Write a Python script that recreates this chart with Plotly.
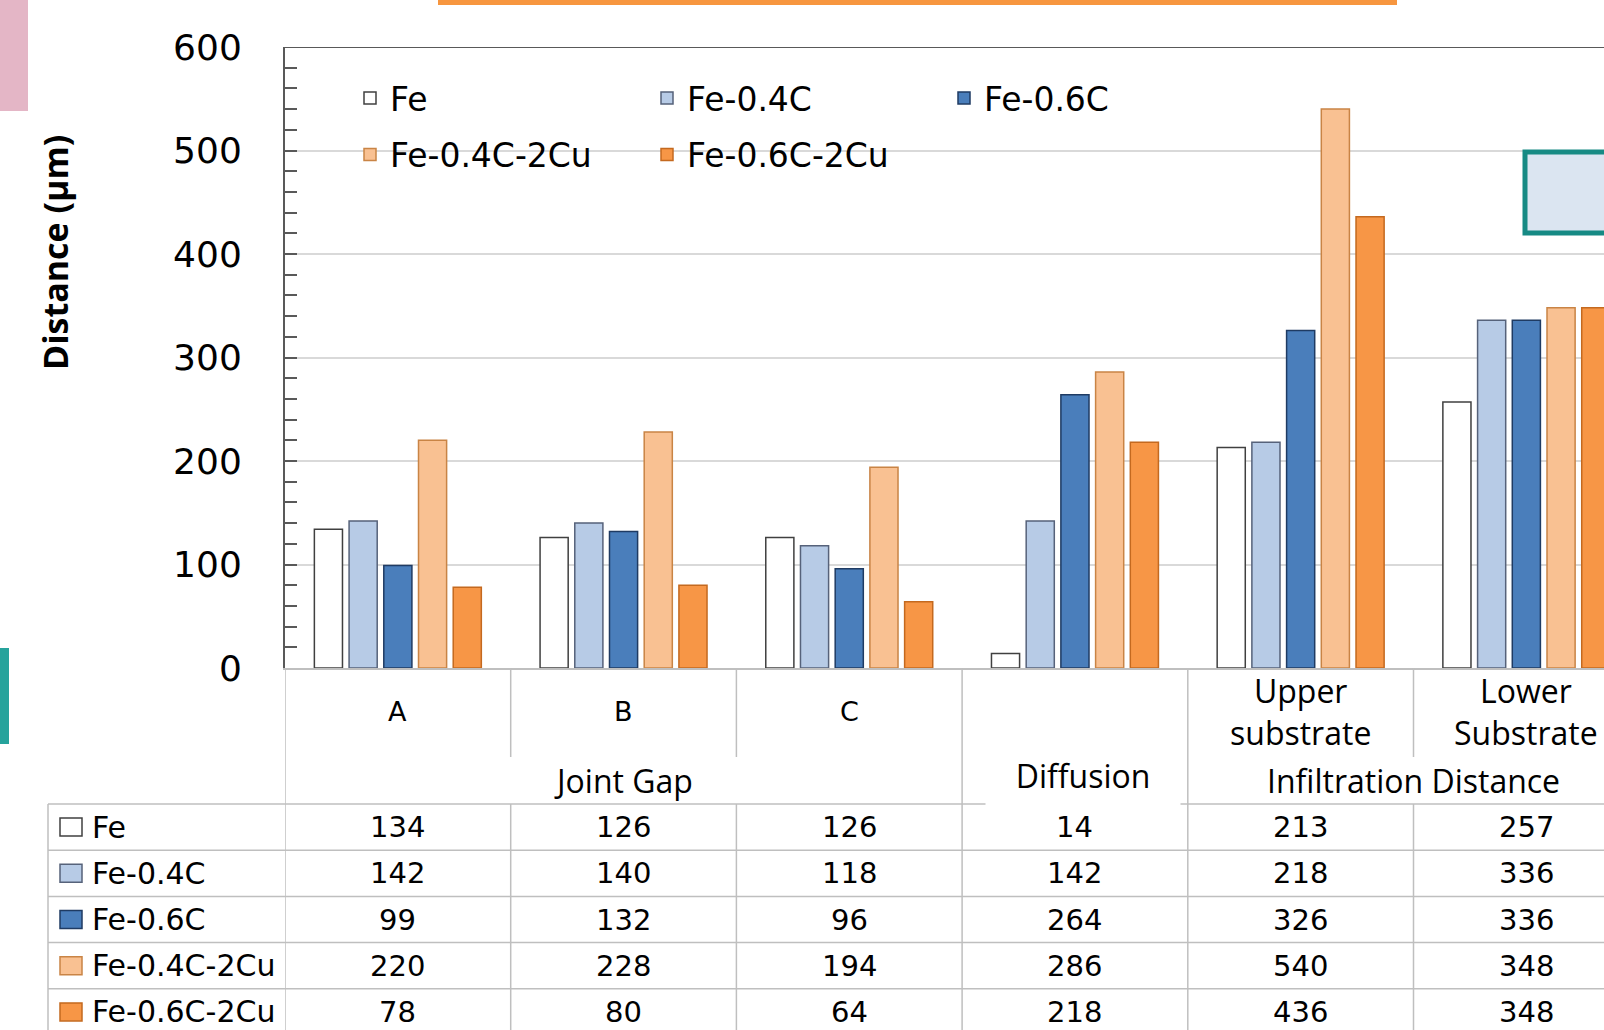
import plotly.graph_objects as go

# ---------------- data ----------------
categories = ["A", "B", "C", "Diffusion", "Upper substrate", "Lower Substrate"]
header_labels = ["A", "B", "C", "", "Upper<br>substrate", "Lower<br>Substrate"]
group_labels = ["Joint Gap", "Diffusion", "Infiltration Distance"]
group_spans = [[0, 2], [3, 3], [4, 5]]
series_names = ["Fe", "Fe-0.4C", "Fe-0.6C", "Fe-0.4C-2Cu", "Fe-0.6C-2Cu"]
fe = [134, 126, 126, 14, 213, 257]
fe_04c = [142, 140, 118, 142, 218, 336]
fe_06c = [99, 132, 96, 264, 326, 336]
fe_04c_2cu = [220, 228, 194, 286, 540, 348]
fe_06c_2cu = [78, 80, 64, 218, 436, 348]
y_ticks = [0, 100, 200, 300, 400, 500, 600]
series = [fe, fe_04c, fe_06c, fe_04c_2cu, fe_06c_2cu]

# ---------------- layout helpers ----------------
W, H = 1604, 1030
ML, MR, MT, MB = 285, 0, 47, 362
PW = W - ML - MR
PH = H - MT - MB
CAT_PX = 225.7


def px(X):
    return (X - ML) / PW


def py(Y):
    return (H - MB - Y) / PH


DEJ = "DejaVu Sans"
OS = "Open Sans"
TBL = "#bfbfbf"
AX = "#595959"

fills = ["#ffffff", "#b7cbe6", "#4a7ebb", "#f9c192", "#f79646"]
edges = ["#404040", "#56627a", "#1f3b63", "#c98445", "#c4691f"]
legend_of = ["legend", "legend", "legend", "legend2", "legend2"]

fig = go.Figure()
for name, vals, fc, ec, lg in zip(series_names, series, fills, edges, legend_of):
    fig.add_trace(go.Bar(
        x=categories, y=vals, name=name, legend=lg,
        marker=dict(color=fc, line=dict(color=ec, width=1.5)),
    ))

shapes = []
annotations = []

# top frame line at 600
shapes.append(dict(type="line", xref="paper", yref="y", x0=0, x1=1, y0=600, y1=600,
                   line=dict(color=AX, width=2), layer="above"))
# white box behind legend (hides gridline)
shapes.append(dict(type="rect", xref="paper", yref="paper", x0=px(327), x1=px(1213),
                   y0=py(185), y1=py(65), fillcolor="white", line=dict(width=0), layer="between"))

# ---- data table ----
row_top = 804
row_h = 46.2
row_centers = [row_top + row_h * (i + 0.5) for i in range(len(series_names))]
y_bottom = H + 5

# horizontal table lines
for k in range(len(series_names)):
    yy = row_top + row_h * k
    shapes.append(dict(type="line", xref="paper", yref="paper", x0=px(48), x1=1,
                       y0=py(yy), y1=py(yy), line=dict(color=TBL, width=1.5)))
# left border of table
shapes.append(dict(type="line", xref="paper", yref="paper", x0=px(48), x1=px(48),
                   y0=py(row_top), y1=py(y_bottom), line=dict(color=TBL, width=1.5)))
# vertical lines at category boundaries
group_bounds = [g[0] - 0.5 for g in group_spans]
inner_bounds = []
for g in group_spans:
    for c in range(g[0], g[1]):
        inner_bounds.append(c + 0.5)
for b in group_bounds:
    shapes.append(dict(type="line", xref="x", yref="paper", x0=b, x1=b,
                       y0=0, y1=py(y_bottom), line=dict(color=TBL, width=1.5)))
for b in inner_bounds:
    shapes.append(dict(type="line", xref="x", yref="paper", x0=b, x1=b,
                       y0=0, y1=py(757), line=dict(color=TBL, width=1.5)))
    shapes.append(dict(type="line", xref="x", yref="paper", x0=b, x1=b,
                       y0=py(row_top), y1=py(y_bottom), line=dict(color=TBL, width=1.5)))

# header category labels
for j, lab in enumerate(header_labels):
    if not lab:
        continue
    if "<br>" in lab:
        f = dict(family=OS, size=32, color="black")
    else:
        f = dict(family=DEJ, size=27, color="black")
    annotations.append(dict(x=categories[j], xref="x", y=py(711), yref="paper", text=lab,
                            showarrow=False, xanchor="center", yanchor="middle", font=f))

# group labels
for lab, span in zip(group_labels, group_spans):
    xc = (span[0] + span[1]) / 2
    if span[0] == span[1]:
        annotations.append(dict(x=xc, xref="x", y=py(775), yref="paper", text=lab,
                                showarrow=False, xanchor="center", yanchor="middle", xshift=8,
                                font=dict(family=OS, size=32, color="black"),
                                bgcolor="white", width=194, height=62, borderpad=0))
    else:
        annotations.append(dict(x=xc, xref="x", y=py(780), yref="paper", text=lab,
                                showarrow=False, xanchor="center", yanchor="middle",
                                font=dict(family=OS, size=32, color="black")))

# values
for i, vals in enumerate(series):
    for j, v in enumerate(vals):
        annotations.append(dict(x=categories[j], xref="x", y=py(row_centers[i]), yref="paper",
                                text=str(v), showarrow=False, xanchor="center", yanchor="middle",
                                font=dict(family=DEJ, size=29, color="black")))
    # row label + key
    annotations.append(dict(x=px(90), xref="paper", y=py(row_centers[i]), yref="paper",
                            text=series_names[i], showarrow=False, xanchor="left", yanchor="middle",
                            font=dict(family=DEJ, size=30, color="black")))
    shapes.append(dict(type="rect", xref="paper", yref="paper", x0=px(60), x1=px(82),
                       y0=py(row_centers[i] + 9), y1=py(row_centers[i] - 9),
                       fillcolor=fills[i], line=dict(color=edges[i], width=1.5)))

# y-axis title
annotations.append(dict(x=px(55), xref="paper", y=py(253), yref="paper", text="<b>Distance (µm)</b>",
                        textangle=-90, showarrow=False, xanchor="center", yanchor="middle",
                        font=dict(family=OS, size=34, color="black")))

# decorative slide elements
shapes.append(dict(type="rect", xref="paper", yref="paper", x0=px(0), x1=px(28), y0=py(111), y1=py(-5),
                   fillcolor="#e4b6c6", line=dict(width=0), layer="above"))
shapes.append(dict(type="rect", xref="paper", yref="paper", x0=px(438), x1=px(1397), y0=py(5), y1=py(-5),
                   fillcolor="#f7963f", line=dict(width=0), layer="above"))
shapes.append(dict(type="rect", xref="paper", yref="paper", x0=px(-5), x1=px(9), y0=py(744), y1=py(648),
                   fillcolor="#26a39c", line=dict(width=0), layer="above"))
shapes.append(dict(type="rect", xref="paper", yref="paper", x0=px(1525), x1=px(1620), y0=py(233), y1=py(152),
                   fillcolor="#dbe5f1", line=dict(color="#168a84", width=5), layer="above"))

leg_common = dict(orientation="h", xanchor="left", yanchor="middle", entrywidth=252,
                  entrywidthmode="pixels", bgcolor="rgba(0,0,0,0)", borderwidth=0,
                  font=dict(family=DEJ, size=33, color="black"))

fig.update_layout(
    width=W, height=H,
    margin=dict(l=ML, r=MR, t=MT, b=MB, pad=0),
    paper_bgcolor="white", plot_bgcolor="white",
    barmode="group", bargap=0.231, bargroupgap=0.19,
    showlegend=True,
    legend=dict(x=px(350), y=py(98), **leg_common),
    legend2=dict(x=px(350), y=py(154.5), **leg_common),
    xaxis=dict(type="category", categoryorder="array", categoryarray=categories,
               range=[-0.5, -0.5 + PW / CAT_PX], showticklabels=False, ticks="",
               showgrid=False, zeroline=False, showline=True, linecolor=TBL, linewidth=1.5,
               automargin=False, fixedrange=True),
    yaxis=dict(range=[0, 600], tickvals=y_ticks, showgrid=True, gridcolor="#d9d9d9", gridwidth=1.5,
               showline=True, linecolor=AX, linewidth=2, zeroline=False,
               ticks="inside", ticklen=12, tickwidth=1.5, tickcolor=AX,
               minor=dict(dtick=20, ticks="inside", ticklen=12, tickwidth=1.5, tickcolor=AX, showgrid=False),
               tickfont=dict(family=DEJ, size=36, color="black"), ticklabelstandoff=34,
               automargin=False, fixedrange=True),
    shapes=shapes,
    annotations=annotations,
)

fig.write_html("out.html", config={"displayModeBar": False},
               post_script="document.body.style.margin='0';document.body.style.overflow='hidden';")
